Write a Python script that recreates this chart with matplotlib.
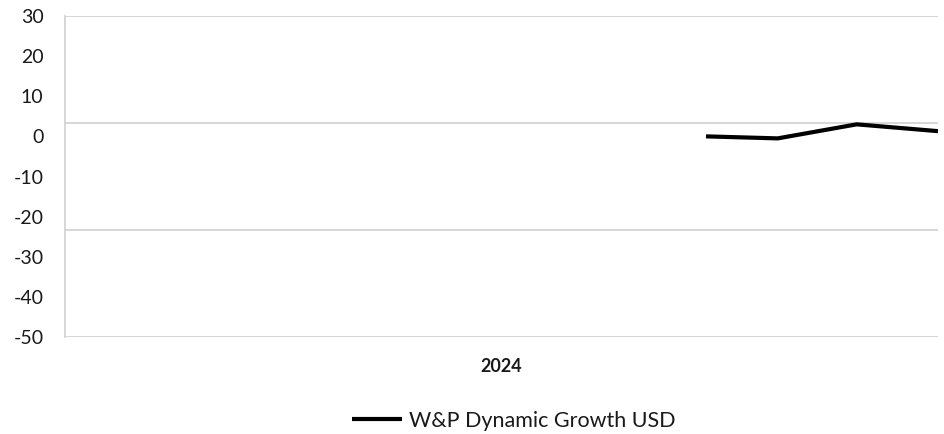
import matplotlib
matplotlib.use("Agg")
import matplotlib.pyplot as plt

# Data
series_name = "W&P Dynamic Growth USD"
x_days = [268, 298, 331, 365]          # position within 2024 (day of year)
values = [0.0, -0.5, 3.0, 1.3]
year_label = "2024"
y_ticks = [30, 20, 10, 0, -10, -20, -30, -40, -50]
grid_levels = [30, 3.333, -23.333, -50]

plt.rcParams['font.family'] = ['Lato', 'DejaVu Sans']

fig = plt.figure(figsize=(9.45, 4.34), dpi=100)
ax = fig.add_axes([65/945, 1-337/434, (938-65)/945, (337-16)/434])

grey = '#d0d0d0'
for g in grid_levels:
    ax.axhline(g, color=grey, lw=1.2, zorder=1)

ax.plot(x_days, values, color='black', lw=3.0, solid_capstyle='butt',
        solid_joinstyle='miter', zorder=3, label=series_name)

ax.set_xlim(0, 365)
ax.set_ylim(-50, 30)
ax.set_yticks(y_ticks)
ax.set_yticklabels([str(t) for t in y_ticks], fontsize=14, color='#1a1a1a')
ax.tick_params(axis='y', length=0, pad=15.5)
ax.set_xticks([182.5])
ax.set_xticklabels([year_label], fontsize=13, fontweight='bold', color='#1a1a1a')
ax.tick_params(axis='x', length=0, pad=15)

for s in ['top', 'right', 'bottom']:
    ax.spines[s].set_visible(False)
ax.spines['left'].set_color(grey)
ax.spines['left'].set_linewidth(1.2)

leg = fig.legend(loc='center', bbox_to_anchor=(514/945, 1-421/434), frameon=False,
                 fontsize=15.5, handlelength=2.3, handletextpad=0.35)
for t in leg.get_texts():
    t.set_color('#1a1a1a')

fig.savefig("out.png", dpi=100)
